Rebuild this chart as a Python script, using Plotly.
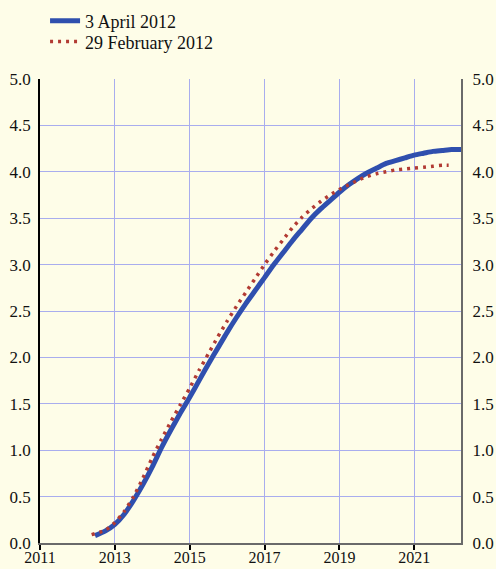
import plotly.graph_objects as go

# Data
april_years = [2012.47, 2012.75, 2013.0, 2013.25, 2013.5, 2013.75, 2014.0, 2014.25, 2014.5, 2014.75,
               2015.0, 2015.25, 2015.5, 2015.75, 2016.0, 2016.25, 2016.5, 2016.75, 2017.0, 2017.25,
               2017.5, 2017.75, 2018.0, 2018.25, 2018.5, 2018.75, 2019.0, 2019.25, 2019.5, 2019.75,
               2020.0, 2020.25, 2020.5, 2020.75, 2021.0, 2021.25, 2021.5, 2021.75, 2022.0, 2022.25]
april_values = [0.08, 0.13, 0.20, 0.31, 0.46, 0.63, 0.82, 1.03, 1.22, 1.40,
                1.57, 1.75, 1.93, 2.10, 2.27, 2.43, 2.58, 2.72, 2.86, 3.00,
                3.13, 3.26, 3.38, 3.50, 3.60, 3.69, 3.78, 3.86, 3.93, 3.99,
                4.04, 4.09, 4.12, 4.15, 4.18, 4.20, 4.22, 4.23, 4.24, 4.24]

feb_years = [2012.38, 2012.75, 2013.0, 2013.25, 2013.5, 2013.75, 2014.0, 2014.25, 2014.5, 2014.75,
             2015.0, 2015.25, 2015.5, 2015.75, 2016.0, 2016.25, 2016.5, 2016.75, 2017.0, 2017.25,
             2017.5, 2017.75, 2018.0, 2018.25, 2018.5, 2018.75, 2019.0, 2019.25, 2019.5, 2019.75,
             2020.0, 2020.25, 2020.5, 2020.75, 2021.0, 2021.25, 2021.5, 2021.75, 2021.92]
feb_values = [0.09, 0.14, 0.22, 0.34, 0.50, 0.70, 0.92, 1.12, 1.31, 1.49,
              1.67, 1.86, 2.04, 2.22, 2.39, 2.55, 2.70, 2.85, 3.00, 3.14,
              3.27, 3.40, 3.51, 3.60, 3.68, 3.75, 3.81, 3.86, 3.91, 3.95,
              3.98, 4.00, 4.02, 4.03, 4.04, 4.05, 4.06, 4.07, 4.07]

x_ticks = [2011, 2013, 2015, 2017, 2019, 2021]
y_ticks = [0.0, 0.5, 1.0, 1.5, 2.0, 2.5, 3.0, 3.5, 4.0, 4.5, 5.0]
y_labels = [f"{v:.1f}" for v in y_ticks]

BG = "#fefde8"
GRID = "#a9adee"
FONT = "Liberation Serif"

fig = go.Figure()
fig.add_trace(go.Scatter(x=april_years, y=april_values, mode="lines", name="3 April 2012",
                         line=dict(color="#2f4fae", width=5, shape="spline", smoothing=0.6),
                         legend="legend"))
fig.add_trace(go.Scatter(x=feb_years, y=feb_values, mode="lines", name="29 February 2012",
                         line=dict(color="#b23b33", width=3.5, dash="3px,5px",
                                   shape="spline", smoothing=0.6),
                         yaxis="y2", legend="legend2"))

leg_common = dict(xref="paper", yref="paper", xanchor="left", yanchor="middle",
                  bgcolor="rgba(0,0,0,0)", font=dict(family=FONT, size=18, color="#111111"))

fig.update_layout(
    width=496, height=569,
    paper_bgcolor=BG, plot_bgcolor=BG,
    margin=dict(l=40, r=35, t=79, b=26, autoexpand=False),
    font=dict(family=FONT, size=17, color="#111111"),
    showlegend=True,
    legend=dict(x=0.012, y=1.125, **leg_common),
    legend2=dict(x=0.012, y=1.08, **leg_common),
    xaxis=dict(range=[2011, 2022.25], tickvals=x_ticks, ticktext=[str(v) for v in x_ticks],
               showgrid=True, gridcolor=GRID, gridwidth=1,
               showline=True, linecolor="#6a6a6a", linewidth=2,
               ticks="outside", ticklen=5, tickcolor="#000000", tickwidth=1.5,
               tickfont=dict(size=16), ticklabelstandoff=-6,
               zeroline=False, fixedrange=True),
    yaxis=dict(range=[0, 5], tickvals=y_ticks, ticktext=y_labels,
               showgrid=True, gridcolor=GRID, gridwidth=1,
               showline=True, linecolor="#000000", linewidth=1.5,
               ticks="", zeroline=False, ticklabelstandoff=4),
    yaxis2=dict(range=[0, 5], tickvals=y_ticks, ticktext=y_labels, overlaying="y", side="right",
                showgrid=False, showline=True, linecolor="#6a6a6a", linewidth=2,
                ticks="", zeroline=False, ticklabelstandoff=6),
)

fig.write_html("out.html", config={"displayModeBar": False},
               post_script="document.body.style.margin='0';document.body.style.padding='0';")
